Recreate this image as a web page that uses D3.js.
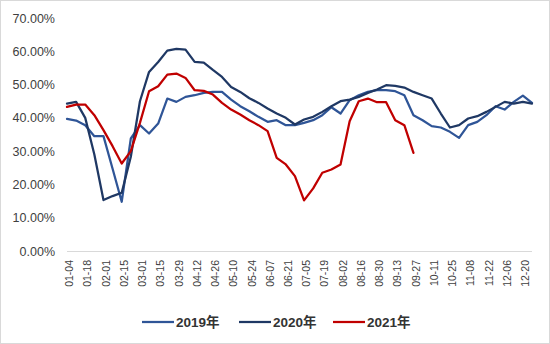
<!DOCTYPE html>
<html>
<head>
<meta charset="utf-8">
<script src="https://cdn.jsdelivr.net/npm/d3@7/dist/d3.min.js"></script>
<style>
  html, body { margin: 0; padding: 0; background: #fff; }
  svg { display: block; }
</style>
</head>
<body>
<svg id="chart" width="550" height="344"></svg>
<script>
// ---- data ----
const categories = ["01-04","01-11","01-18","01-25","02-01","02-08","02-15","02-22","03-01","03-08",
  "03-15","03-22","03-29","04-05","04-12","04-19","04-26","05-03","05-10","05-17",
  "05-24","05-31","06-07","06-14","06-21","06-28","07-05","07-12","07-19","07-26",
  "08-02","08-09","08-16","08-23","08-30","09-06","09-13","09-20","09-27","10-04",
  "10-11","10-18","10-25","11-01","11-08","11-15","11-22","11-29","12-06","12-13",
  "12-20","12-27"];
const tickLabels = ["01-04","01-18","02-01","02-15","03-01","03-15","03-29","04-12","04-26","05-10",
  "05-24","06-07","06-21","07-05","07-19","08-02","08-16","08-30","09-13","09-27",
  "10-11","10-25","11-08","11-22","12-06","12-20"];
const yTicks = [0, 0.1, 0.2, 0.3, 0.4, 0.5, 0.6, 0.7];
const seriesNames = ["2019年", "2020年", "2021年"];
const values2019 = [39.7,39.2,37.8,34.5,34.5,24.7,14.8,33.8,37.8,35.3,
  38.3,45.8,44.8,46.3,46.8,47.5,47.8,47.8,45.5,43.5,
  42.0,40.3,38.8,39.3,37.8,37.8,38.5,39.3,40.8,43.2,
  41.3,45.3,46.8,47.8,48.3,48.3,48.0,46.8,40.8,39.3,
  37.5,37.1,35.8,34.0,37.8,38.8,40.8,43.5,42.5,44.8,
  46.7,44.5];
const values2020 = [44.3,44.8,40.0,29.0,15.3,16.5,17.5,28.3,45.0,53.8,
  56.8,60.2,60.7,60.5,56.8,56.6,54.4,52.3,49.3,47.8,
  45.9,44.5,42.8,41.3,40.0,38.0,39.5,40.3,41.8,43.5,
  45.0,45.5,46.3,47.5,48.5,49.8,49.6,49.1,47.8,46.8,
  45.8,41.3,37.1,37.8,39.8,40.5,41.8,43.3,44.8,44.3,
  44.8,44.3];
const values2021 = [43.3,44.0,44.0,40.8,36.3,31.5,26.3,30.0,38.5,48.0,
  49.5,53.0,53.3,52.0,48.3,48.1,47.0,44.5,42.5,41.0,
  39.3,37.8,36.0,28.0,26.0,22.5,15.2,18.8,23.5,24.5,
  26.0,39.0,45.0,45.8,44.7,44.7,39.3,37.8,29.5];
const colors = ["#2F5597", "#1F3864", "#C00000"];

// ---- drawing ----
const svg = d3.select("#chart");
const W = 550, H = 344;
const font = "'Liberation Sans', Arial, 'Noto Sans CJK SC', sans-serif";

svg.append("rect").attr("x", 0.5).attr("y", 0.5).attr("width", W - 1).attr("height", H - 1)
  .attr("fill", "#fff").attr("stroke", "#D9D9D9");

const x = d3.scalePoint().domain(categories).range([67, 532]);
const y = d3.scaleLinear().domain([0, 0.7]).range([251, 18]);

// y axis labels
const yAxis = d3.axisLeft(y).tickValues(yTicks).tickFormat(d3.format(".2%")).tickSize(0).tickPadding(0);
const gy = svg.append("g").attr("transform", "translate(55,0)").call(yAxis);
gy.select(".domain").remove();
gy.selectAll("text").attr("fill", "#404040").style("font-family", font).style("font-size", "12.5px");

// x axis
const xAxis = d3.axisBottom(x).tickValues(tickLabels).tickSize(0).tickPadding(0);
const gx = svg.append("g").attr("transform", "translate(0,251)").call(xAxis);
gx.select(".domain").attr("stroke", "#D9D9D9").attr("stroke-width", 1)
  .attr("d", `M${x.range()[0]},0.5H${x.range()[1]}`);
gx.selectAll("text")
  .attr("fill", "#404040")
  .style("font-family", font).style("font-size", "10.5px")
  .attr("text-anchor", "end")
  .attr("transform", "rotate(-90)")
  .attr("x", -9).attr("y", 2).attr("dy", "0.35em");

// lines
const allSeries = [values2019, values2020, values2021];
const line = d3.line().x((d, i) => x(categories[i])).y(d => y(d / 100));
svg.append("g").selectAll("path").data(allSeries).join("path")
  .attr("d", d => line(d))
  .attr("fill", "none")
  .attr("stroke", (d, i) => colors[i])
  .attr("stroke-width", 2.25)
  .attr("stroke-linejoin", "round")
  .attr("stroke-linecap", "round");

// legend
const legendPos = [142, 239, 333];
const lg = svg.append("g").attr("transform", "translate(0,322)");
const items = lg.selectAll("g").data(seriesNames).join("g")
  .attr("transform", (d, i) => `translate(${legendPos[i]},0)`);
items.append("line").attr("x1", 0).attr("x2", 32).attr("y1", 0).attr("y2", 0)
  .attr("stroke", (d, i) => colors[i]).attr("stroke-width", 2.25);
items.append("text").attr("x", 34).attr("dy", "0.35em")
  .style("font-family", font).style("font-size", "13.5px").style("font-weight", "bold")
  .attr("fill", "#333").text(d => d);
</script>
</body>
</html>
